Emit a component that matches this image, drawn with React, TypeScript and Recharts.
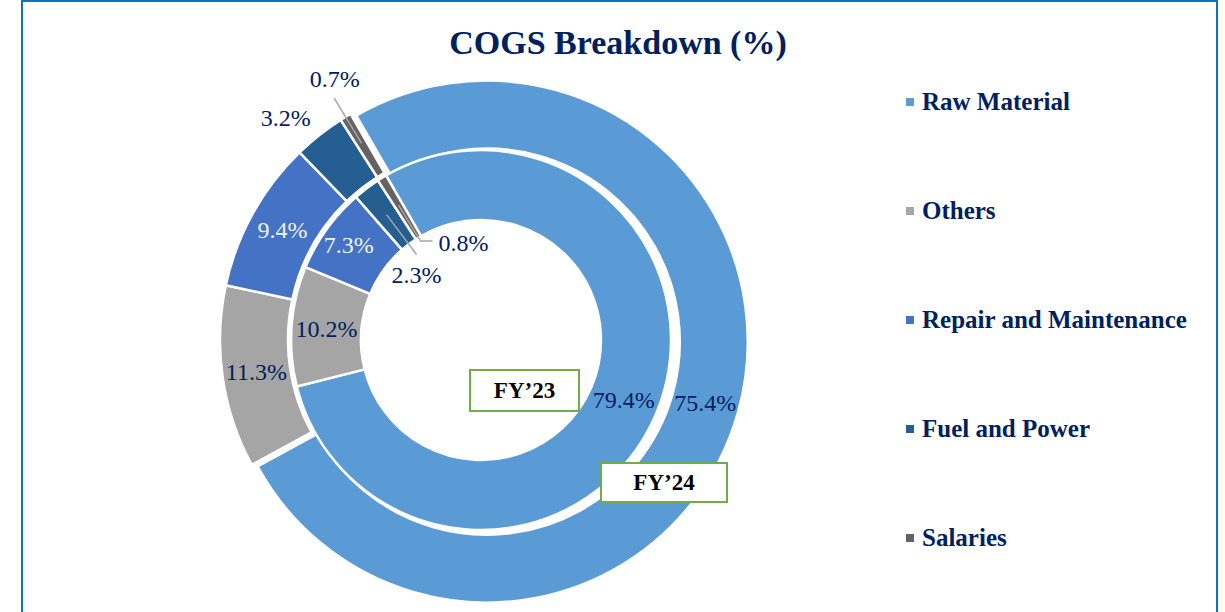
import React from "react";
import { PieChart, Pie, Cell } from "recharts";

const categories = ["Raw Material", "Others", "Repair and Maintenance", "Fuel and Power", "Salaries"];
const fy24Values = [75.4, 11.3, 9.4, 3.2, 0.7];
const fy23Values = [79.4, 10.2, 7.3, 2.3, 0.8];
const colors = ["#5B9BD5", "#A5A5A5", "#4472C4", "#255E91", "#636363"];

const fy24 = categories.map((name, i) => ({ name, value: fy24Values[i] }));
const fy23 = categories.map((name, i) => ({ name, value: fy23Values[i] }));

const CX = 481;
const CY = 340;
const START = 120;
const END = -240;
const EXPLODE = 6;
const RAD = Math.PI / 180;
const NAVY = "#002060";
const LEADER = "#A6A6A6";
const FONT = '"Liberation Serif", "Times New Roman", serif';

// offset of the pulled-out Raw Material slice (outer ring)
const total24 = fy24Values.reduce((a, b) => a + b, 0);
const rawMid = START - (360 * fy24Values[0]) / total24 / 2;
const ex = EXPLODE * Math.cos(rawMid * RAD);
const ey = -EXPLODE * Math.sin(rawMid * RAD);

const polar = (cx: number, cy: number, r: number, angle: number) => ({
  x: cx + r * Math.cos(-angle * RAD),
  y: cy + r * Math.sin(-angle * RAD),
});

const pct = (v: number) => `${v.toFixed(1)}%`;

function Txt({ x, y, fill = NAVY, anchor = "middle", children }: any) {
  return (
    <text x={x} y={y} fill={fill} textAnchor={anchor} dominantBaseline="central" fontSize={24} fontFamily={FONT}>
      {children}
    </text>
  );
}

function outerLabel(p: any) {
  const { cx, cy, midAngle, innerRadius, outerRadius, index, value } = p;
  if (index === 0) return null;
  if (index <= 2) {
    const pt = polar(cx, cy, (innerRadius + outerRadius) / 2, midAngle);
    return <Txt x={pt.x} y={pt.y} fill={index === 2 ? "#F2F2F2" : NAVY}>{pct(value)}</Txt>;
  }
  if (index === 3) {
    const pt = polar(cx, cy, outerRadius + 35, midAngle + 3);
    return <Txt x={pt.x} y={pt.y}>{pct(value)}</Txt>;
  }
  const a = polar(cx, cy, outerRadius - 31, midAngle);
  const b = polar(cx, cy, outerRadius + 22, midAngle);
  const pt = polar(cx, cy, outerRadius + 38, midAngle - 2);
  return (
    <g>
      <line x1={a.x} y1={a.y} x2={b.x} y2={b.y} stroke={LEADER} strokeWidth={1.5} />
      <Txt x={pt.x} y={pt.y}>{pct(value)}</Txt>
    </g>
  );
}

function rawLabel(p: any) {
  const { cx, cy, midAngle, innerRadius, outerRadius, index, value } = p;
  if (index !== 0) return null;
  const pt = polar(cx, cy, (innerRadius + outerRadius) / 2, midAngle);
  return <Txt x={pt.x} y={pt.y}>{pct(value)}</Txt>;
}

function innerLabel(p: any) {
  const { cx, cy, midAngle, innerRadius, outerRadius, index, value } = p;
  if (index <= 2) {
    const r = index === 2 ? 163 : (innerRadius + outerRadius) / 2;
    const pt = polar(cx, cy, r, midAngle);
    return <Txt x={pt.x} y={pt.y} fill={index === 2 ? "#F2F2F2" : NAVY}>{pct(value)}</Txt>;
  }
  if (index === 3) {
    const a = polar(cx, cy, innerRadius + 37, midAngle);
    const b = polar(cx, cy, innerRadius - 13, midAngle);
    return (
      <g>
        <line x1={a.x} y1={a.y} x2={b.x} y2={b.y} stroke={LEADER} strokeWidth={1.5} />
        <Txt x={b.x} y={b.y + 20}>{pct(value)}</Txt>
      </g>
    );
  }
  const a = polar(cx, cy, innerRadius + 38, midAngle);
  const b = polar(cx, cy, innerRadius - 4, midAngle);
  return (
    <g>
      <polyline points={`${a.x},${a.y} ${b.x},${b.y} ${b.x + 12},${b.y}`} fill="none" stroke={LEADER} strokeWidth={1.5} />
      <Txt x={b.x + 18} y={b.y + 2} anchor="start">{pct(value)}</Txt>
    </g>
  );
}

const boxStyle: React.CSSProperties = {
  position: "absolute",
  boxSizing: "border-box",
  border: "2px solid #70AD47",
  background: "#fff",
  display: "flex",
  alignItems: "center",
  justifyContent: "center",
  fontFamily: FONT,
  fontWeight: "bold",
  fontSize: 23,
  color: "#000",
};

export default function App() {
  return (
    <div style={{ position: "absolute", left: 0, top: 0, width: 1225, height: 612, background: "#fff", overflow: "hidden" }}>
      <div
        style={{
          position: "absolute",
          left: 21,
          top: 0,
          width: 1197,
          height: 660,
          boxSizing: "border-box",
          border: "2px solid #0B72C4",
        }}
      />
      <div
        style={{
          position: "absolute",
          left: 418,
          top: 23,
          width: 400,
          textAlign: "center",
          fontFamily: FONT,
          fontWeight: "bold",
          fontSize: 34,
          lineHeight: "40px",
          color: NAVY,
        }}
      >
        COGS Breakdown (%)
      </div>

      <div style={{ position: "absolute", left: 0, top: 0 }}>
        <PieChart width={1225} height={612} margin={{ top: 0, right: 0, bottom: 0, left: 0 }}>
          <Pie
            data={fy24}
            dataKey="value"
            nameKey="name"
            cx={CX}
            cy={CY}
            innerRadius={193}
            outerRadius={261}
            startAngle={START}
            endAngle={END}
            labelLine={false}
            label={outerLabel}
            isAnimationActive={false}
          >
            {fy24.map((d, i) => (
              <Cell
                key={d.name}
                fill={i === 0 ? "none" : colors[i]}
                stroke={i === 0 ? "none" : "#fff"}
                strokeWidth={2.5}
              />
            ))}
          </Pie>
          <Pie
            data={fy24}
            dataKey="value"
            nameKey="name"
            cx={CX + ex}
            cy={CY + ey}
            innerRadius={193}
            outerRadius={261}
            startAngle={START}
            endAngle={END}
            labelLine={false}
            label={rawLabel}
            isAnimationActive={false}
          >
            {fy24.map((d, i) => (
              <Cell
                key={d.name}
                fill={i === 0 ? colors[0] : "none"}
                stroke={i === 0 ? "#fff" : "none"}
                strokeWidth={2.5}
              />
            ))}
          </Pie>
          <Pie
            data={fy23}
            dataKey="value"
            nameKey="name"
            cx={CX}
            cy={CY}
            innerRadius={120}
            outerRadius={190}
            startAngle={START}
            endAngle={END}
            labelLine={false}
            label={innerLabel}
            isAnimationActive={false}
          >
            {fy23.map((d, i) => (
              <Cell key={d.name} fill={colors[i]} stroke="#fff" strokeWidth={2.5} />
            ))}
          </Pie>
        </PieChart>
      </div>

      {categories.map((name, i) => (
        <div key={name} style={{ position: "absolute", left: 906, top: 87 + i * 109, height: 30 }}>
          <div style={{ position: "absolute", left: 0, top: 11, width: 8, height: 8, background: colors[i] }} />
          <div
            style={{
              position: "absolute",
              left: 16,
              top: 0,
              whiteSpace: "nowrap",
              fontFamily: FONT,
              fontWeight: "bold",
              fontSize: 25,
              lineHeight: "30px",
              color: NAVY,
            }}
          >
            {name}
          </div>
        </div>
      ))}

      <div style={{ ...boxStyle, left: 469, top: 369, width: 111, height: 43 }}>FY’23</div>
      <div style={{ ...boxStyle, left: 600, top: 462, width: 128, height: 41 }}>FY’24</div>
    </div>
  );
}
